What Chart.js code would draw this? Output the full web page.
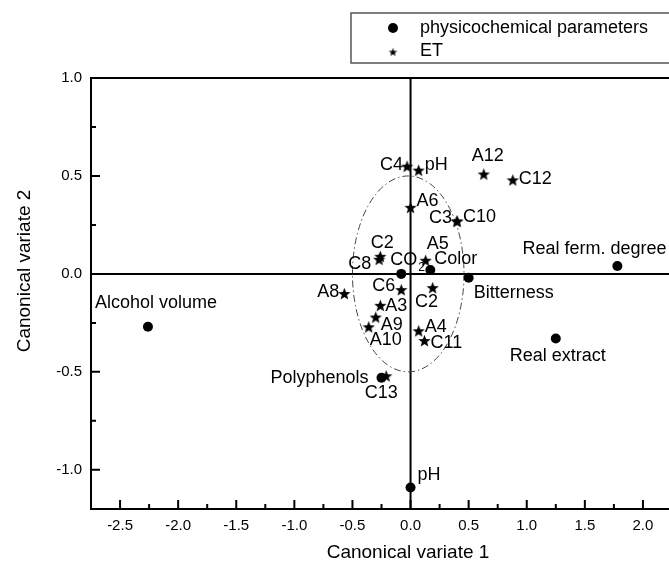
<!DOCTYPE html>
<html lang="en">
<head>
<meta charset="UTF-8">
<title>Canonical variates</title>
<script src="https://cdn.jsdelivr.net/npm/chart.js"></script>
<style>
  html, body { margin: 0; padding: 0; background: #fff; overflow: hidden; }
  #wrap { width: 680px; height: 562px; }
</style>
</head>
<body>
<div id="wrap"><canvas id="cva" width="680" height="562"></canvas></div>
<script>
  // physicochemical parameters (circles)
  const physNames = ['Alcohol volume', 'pH', 'Real ferm. degree', 'Bitterness', 'Real extract', 'CO2', 'Color', 'Polyphenols'];
  const physX = [-2.26, 0.00, 1.78, 0.50, 1.25, -0.08, 0.17, -0.25];
  const physY = [-0.27, -1.09, 0.04, -0.02, -0.33, 0.00, 0.02, -0.53];

  // electronic tongue samples (stars)
  const etNames = ['C4', 'pH', 'A12', 'C12', 'A6', 'C3', 'C10', 'C2', 'C8', 'A5', 'C6', 'C2', 'A8', 'A3', 'A9', 'A10', 'A4', 'C11', 'C13'];
  const etX = [-0.03, 0.07, 0.63, 0.88, 0.00, 0.40, 0.40, -0.26, -0.27, 0.13, -0.08, 0.19, -0.57, -0.26, -0.30, -0.36, 0.07, 0.12, -0.21];
  const etY = [0.55, 0.53, 0.51, 0.48, 0.34, 0.27, 0.27, 0.09, 0.075, 0.07, -0.08, -0.07, -0.10, -0.16, -0.22, -0.27, -0.29, -0.34, -0.52];

  const legendNames = ['physicochemical parameters', 'ET'];

  // label placement next to each mark: [align, dx, dy]
  const physLabelPos = [['left', -53, -24], ['left', 7, -12], ['left', -95, -17], ['left', 5, 15],
    ['left', -46, 17], ['left', -11, -14], ['left', 4, -11], ['right', -13, 0]];
  const etLabelPos = [['right', -4, -1], ['left', 6, -5], ['center', 4, -18], ['left', 6, -1], ['left', 6, -6],
    ['right', -5, -3], ['left', 6, -4], ['center', 2, -13], ['right', -8, 5], ['center', 12, -16],
    ['right', -6, -4], ['center', -6, 14], ['right', -5, -1], ['left', 5, 1], ['left', 5, 8],
    ['center', 17, 13], ['left', 6, -4], ['left', 6, 3], ['center', -5, 17]];

  // dash-dot ellipse around the ET cluster (data units)
  const ellipse = { cx: -0.02, cy: 0.0, rx: 0.48, ry: 0.5 };

  const FONT = '"Liberation Sans", Arial, sans-serif';

  function starImage(r) {
    const c = document.createElement('canvas');
    const s = Math.ceil(r * 2) + 2;
    c.width = s; c.height = s;
    const g = c.getContext('2d');
    g.translate(s / 2, s / 2 + r * 0.1);
    g.beginPath();
    for (let i = 0; i < 10; i++) {
      const rad = i % 2 ? r * 0.42 : r;
      const a = -Math.PI / 2 + i * Math.PI / 5;
      g.lineTo(rad * Math.cos(a), rad * Math.sin(a));
    }
    g.closePath();
    g.fillStyle = '#000';
    g.fill();
    return c;
  }
  const star = starImage(6.5);
  const legendStar = starImage(4.5);

  const onGrid = (v, step) => Math.abs(v / step - Math.round(v / step)) < 1e-6;

  const decor = {
    id: 'decor',
    beforeDatasetsDraw(chart) {
      const { ctx, chartArea: a, scales: { x, y } } = chart;
      ctx.save();
      // frame
      ctx.strokeStyle = '#000';
      ctx.lineWidth = 2;
      ctx.strokeRect(a.left, a.top, a.right - a.left, a.bottom - a.top);
      // zero lines
      const x0 = x.getPixelForValue(0), y0 = y.getPixelForValue(0);
      ctx.beginPath();
      ctx.moveTo(x0, a.top); ctx.lineTo(x0, a.bottom);
      ctx.moveTo(a.left, y0); ctx.lineTo(a.right, y0);
      ctx.stroke();
      // inward ticks
      ctx.beginPath();
      x.ticks.forEach(t => {
        if (!onGrid(t.value, 0.25) || t.value <= x.min || t.value >= x.max) return;
        const px = x.getPixelForValue(t.value);
        const len = onGrid(t.value, 0.5) ? 9 : 5;
        ctx.moveTo(px, a.bottom); ctx.lineTo(px, a.bottom - len);
      });
      y.ticks.forEach(t => {
        if (!onGrid(t.value, 0.25) || t.value <= y.min || t.value >= y.max) return;
        const py = y.getPixelForValue(t.value);
        const len = onGrid(t.value, 0.5) ? 9 : 5;
        ctx.moveTo(a.left, py); ctx.lineTo(a.left + len, py);
      });
      ctx.stroke();
      // ellipse
      const ecx = x.getPixelForValue(ellipse.cx), ecy = y.getPixelForValue(ellipse.cy);
      const erx = x.getPixelForValue(ellipse.cx + ellipse.rx) - ecx;
      const ery = ecy - y.getPixelForValue(ellipse.cy + ellipse.ry);
      ctx.beginPath();
      ctx.ellipse(ecx, ecy, erx, ery, 0, 0, Math.PI * 2);
      ctx.lineWidth = 1;
      ctx.strokeStyle = '#444';
      ctx.setLineDash([7, 3, 1.5, 3]);
      ctx.stroke();
      ctx.restore();
    },
    afterDatasetsDraw(chart) {
      const { ctx } = chart;
      ctx.save();
      ctx.fillStyle = '#000';
      ctx.textBaseline = 'middle';
      const sets = [[physNames, physLabelPos], [etNames, etLabelPos]];
      sets.forEach(([names, pos], di) => {
        const pts = chart.getDatasetMeta(di).data;
        names.forEach((name, i) => {
          const [align, dx, dy] = pos[i];
          const px = pts[i].x + dx, py = pts[i].y + dy;
          ctx.font = '18px ' + FONT;
          ctx.textAlign = align;
          if (name === 'CO2') {
            ctx.textAlign = 'left';
            ctx.fillText('CO', px, py);
            const w = ctx.measureText('CO').width;
            ctx.font = '12px ' + FONT;
            ctx.fillText('2', px + w + 1, py + 8);
          } else {
            ctx.fillText(name, px, py);
          }
        });
      });
      ctx.restore();
    },
    afterDraw(chart) {
      const { ctx } = chart;
      ctx.save();
      // axis titles
      ctx.fillStyle = '#000';
      ctx.font = '19px ' + FONT;
      ctx.textAlign = 'center';
      ctx.textBaseline = 'middle';
      ctx.fillText('Canonical variate 1', 408, 553);
      ctx.translate(25, 271);
      ctx.rotate(-Math.PI / 2);
      ctx.fillText('Canonical variate 2', 0, 0);
      ctx.restore();
      // legend box
      ctx.save();
      ctx.strokeStyle = '#555';
      ctx.lineWidth = 1.5;
      ctx.strokeRect(351, 13, 340, 50);
      ctx.fillStyle = '#000';
      ctx.beginPath();
      ctx.arc(393, 28, 5, 0, Math.PI * 2);
      ctx.fill();
      ctx.drawImage(legendStar, 393 - legendStar.width / 2, 52 - legendStar.height / 2);
      ctx.font = '18px ' + FONT;
      ctx.textBaseline = 'middle';
      ctx.textAlign = 'left';
      ctx.fillText(legendNames[0], 420, 28);
      ctx.fillText(legendNames[1], 420, 51);
      ctx.restore();
    }
  };

  const tickLabel = v => onGrid(v, 0.5) ? v.toFixed(1) : '';

  new Chart(document.getElementById('cva'), {
    type: 'scatter',
    data: {
      datasets: [
        {
          label: legendNames[0],
          data: physX.map((v, i) => ({ x: v, y: physY[i] })),
          pointStyle: 'circle',
          pointRadius: 5,
          backgroundColor: '#000',
          borderColor: '#000',
          borderWidth: 0
        },
        {
          label: legendNames[1],
          data: etX.map((v, i) => ({ x: v, y: etY[i] })),
          pointStyle: star,
          pointRadius: 6,
          backgroundColor: '#000',
          borderColor: '#000'
        }
      ]
    },
    options: {
      responsive: false,
      animation: false,
      events: [],
      layout: { padding: { top: 78, right: 8, left: 0, bottom: 0 } },
      plugins: {
        legend: { display: false },
        tooltip: { enabled: false }
      },
      scales: {
        x: {
          type: 'linear',
          min: -2.75,
          max: 2.25,
          grid: { display: false, drawTicks: false },
          border: { display: false },
          ticks: {
            stepSize: 0.25, autoSkip: false, maxRotation: 0, padding: 8,
            color: '#000', font: { family: FONT, size: 15 },
            callback: tickLabel
          },
          afterFit: s => { s.height = 53; }
        },
        y: {
          type: 'linear',
          min: -1.2,
          max: 1.0,
          grid: { display: false, drawTicks: false },
          border: { display: false },
          ticks: {
            stepSize: 0.25, autoSkip: false, padding: 9,
            color: '#000', font: { family: FONT, size: 15 },
            callback: tickLabel
          },
          afterFit: s => { s.width = 91; }
        }
      }
    },
    plugins: [decor]
  });
</script>
</body>
</html>
